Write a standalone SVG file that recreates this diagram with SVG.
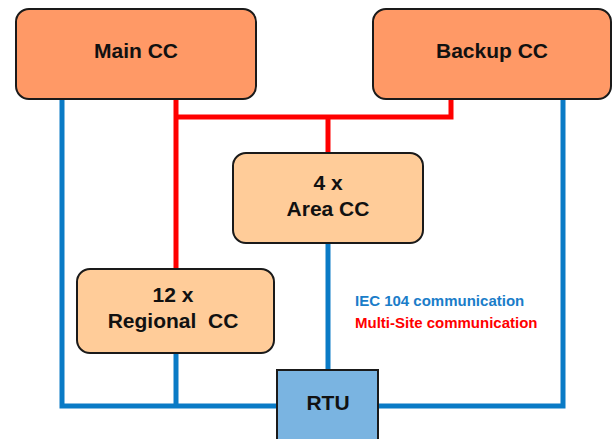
<svg xmlns="http://www.w3.org/2000/svg" width="612" height="439" viewBox="0 0 612 439">
<style>
.box{stroke:#1a1a1a;stroke-width:2}
.cc{fill:#FF9966}
.sub{fill:#FFCC99}
.rtu{fill:#7AB4E1}
.lbl{font-family:"Liberation Sans",Arial,sans-serif;font-weight:bold;font-size:21px;fill:#111;text-anchor:middle}
.blue{stroke:#0A7BC6;stroke-width:5;fill:none}
.red{stroke:#FF0000;stroke-width:5;fill:none}
.leg{font-family:"Liberation Sans",Arial,sans-serif;font-weight:bold;font-size:15px}
</style>
<rect width="612" height="439" fill="#fff"/>
<g id="connectors">
<polyline class="blue" points="62,99 62,406 277,406"/>
<line class="blue" x1="176" y1="353" x2="176" y2="406"/>
<line class="blue" x1="328" y1="243" x2="328" y2="370"/>
<polyline class="blue" points="378,406 563,406 563,99"/>
<polyline class="red" points="176,99 176,269"/>
<polyline class="red" points="176,117 451,117 451,99"/>
<line class="red" x1="328" y1="117" x2="328" y2="153"/>
</g>
<g id="main-cc">
<rect class="box cc" x="16" y="9" width="240" height="90" rx="13"/>
<text class="lbl" x="136" y="58">Main CC</text>
</g>
<g id="backup-cc">
<rect class="box cc" x="373" y="9" width="238" height="90" rx="13"/>
<text class="lbl" x="492" y="58">Backup CC</text>
</g>
<g id="area-cc">
<rect class="box sub" x="233" y="153" width="190" height="90" rx="13"/>
<text class="lbl" x="328" y="190">4 x</text>
<text class="lbl" x="328" y="216">Area CC</text>
</g>
<g id="regional-cc">
<rect class="box sub" x="77" y="269" width="197" height="84" rx="13"/>
<text class="lbl" x="173" y="302">12 x</text>
<text class="lbl" x="173" y="328" xml:space="preserve">Regional  CC</text>
</g>
<g id="rtu">
<rect class="box rtu" x="277" y="370" width="101" height="75"/>
<text class="lbl" x="328" y="410">RTU</text>
</g>
<g id="legend">
<text class="leg" x="355" y="306" fill="#1A7DC9">IEC 104 communication</text>
<text class="leg" x="355" y="328" fill="#FF0000">Multi-Site communication</text>
</g>
</svg>
